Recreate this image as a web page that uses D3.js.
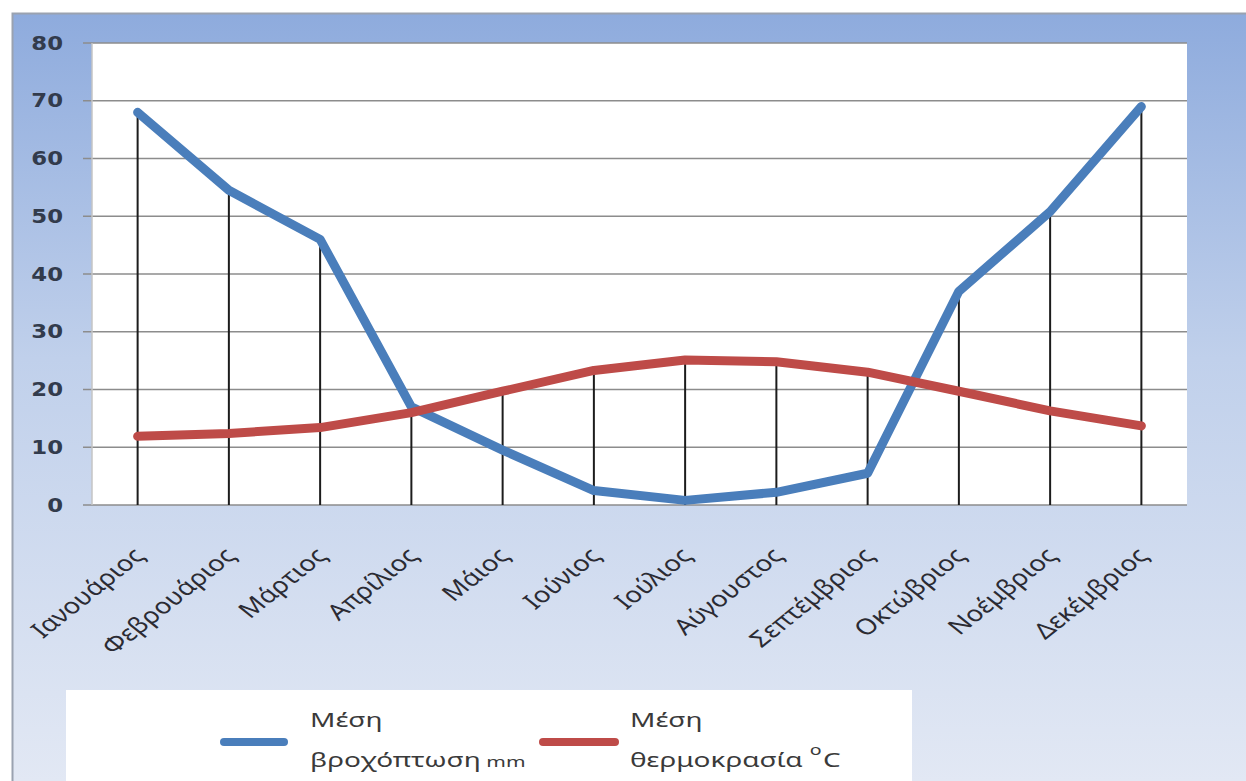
<!DOCTYPE html>
<html>
<head>
<meta charset="utf-8">
<script src="https://cdn.jsdelivr.net/npm/d3@7"></script>
<style>
  body { margin: 0; background: #fff; }
  svg { display: block; }
</style>
</head>
<body>
<svg id="chart" width="1246" height="781"></svg>
<script>
// data
const months = ['Ιανουάριος', 'Φεβρουάριος', 'Μάρτιος', 'Απρίλιος', 'Μάιος', 'Ιούνιος',
  'Ιούλιος', 'Αύγουστος', 'Σεπτέμβριος', 'Οκτώβριος', 'Νοέμβριος', 'Δεκέμβριος'];
const rainfall = [68, 54.5, 46, 17, 9.5, 2.5, 0.8, 2.2, 5.5, 37, 50.8, 69];
const temperature = [11.9, 12.4, 13.4, 16, 19.7, 23.3, 25.1, 24.8, 23, 19.7, 16.3, 13.7];
const yTicks = [0, 10, 20, 30, 40, 50, 60, 70, 80];
const rainLabel = ['Μέση', 'βροχόπτωση', 'mm'];
const tempLabel = ['Μέση', 'θερμοκρασία', 'o', 'C'];

const blue = '#4a7ebb';
const red = '#be4b48';
const stretch = 1.25; // the picture is a little wider than tall

const svg = d3.select('#chart');
const W = 1246, H = 781;
const plot = { left: 92, right: 1187, top: 43, bottom: 505 };

// background gradient
const defs = svg.append('defs');
const grad = defs.append('linearGradient')
  .attr('id', 'bg').attr('x1', 0).attr('y1', 0).attr('x2', 0).attr('y2', 1);
grad.append('stop').attr('offset', '0%').attr('stop-color', '#8eabdd');
grad.append('stop').attr('offset', '45%').attr('stop-color', '#c0d0eb');
grad.append('stop').attr('offset', '100%').attr('stop-color', '#e2e8f4');

svg.append('rect')
  .attr('x', 12).attr('y', 13).attr('width', W - 12).attr('height', H - 13)
  .attr('fill', 'url(#bg)');
svg.append('path')
  .attr('d', `M12.5,${H}V13.5H${W}`)
  .attr('fill', 'none').attr('stroke', '#9aa2b0').attr('stroke-width', 2);

// plot area
svg.append('rect')
  .attr('x', plot.left).attr('y', plot.top)
  .attr('width', plot.right - plot.left).attr('height', plot.bottom - plot.top)
  .attr('fill', '#fff');

const x = d3.scalePoint().domain(months).range([plot.left, plot.right]).padding(0.5);
const y = d3.scaleLinear().domain([0, 80]).range([plot.bottom, plot.top]);

// gridlines
svg.append('g')
  .selectAll('line')
  .data(yTicks)
  .join('line')
  .attr('x1', plot.left - 9).attr('x2', plot.right)
  .attr('y1', d => y(d)).attr('y2', d => y(d))
  .attr('stroke', '#8c8c8c').attr('stroke-width', 1.6);

svg.append('line')
  .attr('x1', plot.left).attr('x2', plot.left)
  .attr('y1', plot.top).attr('y2', plot.bottom)
  .attr('stroke', '#c4c4c4').attr('stroke-width', 1.5);

// y labels
const yAxis = svg.append('g')
  .attr('transform', `translate(${plot.left},0)`)
  .call(d3.axisLeft(y).tickValues(yTicks).tickSize(0).tickPadding(0));
yAxis.select('.domain').remove();
yAxis.selectAll('text')
  .attr('x', 0)
  .attr('transform', `translate(-29,0) scale(1.2,1)`)
  .attr('font-family', 'DejaVu Sans')
  .attr('font-weight', 'bold')
  .attr('font-size', 19)
  .attr('fill', '#323b4c');

// drop lines
svg.append('g')
  .selectAll('line')
  .data(months)
  .join('line')
  .attr('x1', d => x(d)).attr('x2', d => x(d))
  .attr('y1', (d, i) => y(Math.max(rainfall[i], temperature[i])))
  .attr('y2', y(0))
  .attr('stroke', '#1c1c1c').attr('stroke-width', 2);

// series
const line = d3.line()
  .x((d, i) => x(months[i]))
  .y(d => y(d));

[[rainfall, blue], [temperature, red]].forEach(([vals, col]) => {
  svg.append('path')
    .datum(vals)
    .attr('d', line)
    .attr('fill', 'none')
    .attr('stroke', col)
    .attr('stroke-width', 9)
    .attr('stroke-linecap', 'round')
    .attr('stroke-linejoin', 'round');
});

// x labels
svg.append('g')
  .selectAll('g')
  .data(months)
  .join('g')
  .attr('transform', d => `translate(${x(d) + 8},557)`)
  .append('text')
  .attr('transform', `scale(${stretch},1) rotate(-45)`)
  .attr('text-anchor', 'end')
  .attr('font-family', 'Noto Sans')
  .attr('font-size', 22)
  .attr('fill', '#2b2b33')
  .text(d => d);

// legend
const legend = svg.append('g');
legend.append('rect')
  .attr('x', 66).attr('y', 690).attr('width', 846).attr('height', H - 690)
  .attr('fill', '#fff');

function legendItem(x0, x1, tx, col, lines) {
  legend.append('line')
    .attr('x1', x0).attr('x2', x1).attr('y1', 742).attr('y2', 742)
    .attr('stroke', col).attr('stroke-width', 8).attr('stroke-linecap', 'round');
  const g = legend.append('g')
    .attr('transform', `translate(${tx},0) scale(1.4,1)`)
    .attr('font-family', 'Noto Sans')
    .attr('fill', '#3a3a3a');
  g.append('text').attr('y', 727).attr('font-size', 20).text(lines[0]);
  const t = g.append('text').attr('y', 767).attr('font-size', 20);
  t.append('tspan').text(lines[1]);
  return t;
}

const t1 = legendItem(224, 284, 310, blue, rainLabel);
t1.append('tspan').attr('font-size', 15).text(' ' + rainLabel[2]);

const t2 = legendItem(543, 615, 630, red, tempLabel);
t2.append('tspan').attr('font-size', 14).attr('dx', 5).attr('dy', -12).text(tempLabel[2]);
t2.append('tspan').attr('font-size', 20).attr('dx', 1).attr('dy', 12).text(tempLabel[3]);
</script>
</body>
</html>
